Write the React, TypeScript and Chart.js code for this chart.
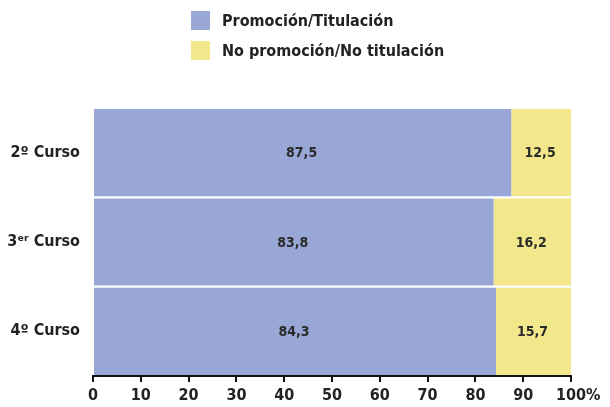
import React, { useEffect, useRef } from 'react';
import { Chart, registerables } from 'chart.js';

Chart.register(...registerables);

const categories = ['2º Curso', '3ᵉʳ Curso', '4º Curso'];
const promocion = [87.5, 83.8, 84.3];
const noPromocion = [12.5, 16.2, 15.7];
const seriesLabels = ['Promoción/Titulación', 'No promoción/No titulación'];
const seriesColors = ['#99A7D6', '#F2E78A'];

const FONT = '"DejaVu Sans Condensed", "Liberation Sans Narrow", "DejaVu Sans", sans-serif';
const TEXT = '#222222';

const fmt = (v: number) => v.toFixed(1).replace('.', ',');

const legendPlugin = {
  id: 'customLegend',
  afterDraw(chart: any) {
    const ctx = chart.ctx;
    ctx.save();
    chart.data.datasets.forEach((ds: any, i: number) => {
      const y = 11 + i * 30;
      ctx.fillStyle = ds.backgroundColor;
      ctx.fillRect(191, y, 19, 19);
      ctx.fillStyle = TEXT;
      ctx.font = `bold 16px ${FONT}`;
      ctx.textBaseline = 'middle';
      ctx.textAlign = 'left';
      ctx.fillText(ds.label, 222, y + 11);
    });
    ctx.restore();
  },
};

const valueLabels = {
  id: 'valueLabels',
  afterDatasetsDraw(chart: any) {
    const ctx = chart.ctx;
    ctx.save();
    ctx.font = `bold 14px ${FONT}`;
    ctx.fillStyle = '#2a2a2a';
    ctx.textAlign = 'center';
    ctx.textBaseline = 'middle';
    chart.data.datasets.forEach((ds: any, di: number) => {
      const meta = chart.getDatasetMeta(di);
      meta.data.forEach((el: any, i: number) => {
        const p = el.getProps(['x', 'y', 'base'], true);
        ctx.fillText(fmt(ds.data[i]), (p.x + p.base) / 2 - 1, p.y + 1);
      });
    });
    ctx.restore();
  },
};

const percentSign = {
  id: 'percentSign',
  afterDraw(chart: any) {
    const xs = chart.scales.x;
    const ctx = chart.ctx;
    ctx.save();
    ctx.font = `bold 16px ${FONT}`;
    const w = ctx.measureText('100').width;
    ctx.fillStyle = TEXT;
    ctx.textAlign = 'left';
    ctx.textBaseline = 'middle';
    const px = xs.getPixelForValue(100);
    const ys = xs.bottom;
    // align with the tick label row
    const labelY = xs.top + 2 + 6 + 4 + 8;
    ctx.fillText('%', px + w / 2, labelY);
    ctx.restore();
  },
};

export default function App() {
  const ref = useRef<HTMLCanvasElement | null>(null);
  useEffect(() => {
    if (!ref.current) return;
    const chart = new Chart(ref.current, {
      type: 'bar',
      data: {
        labels: categories,
        datasets: [
          { label: seriesLabels[0], data: promocion, backgroundColor: seriesColors[0] },
          { label: seriesLabels[1], data: noPromocion, backgroundColor: seriesColors[1] },
        ],
      },
      options: {
        indexAxis: 'y',
        animation: false,
        responsive: false,
        maintainAspectRatio: false,
        layout: { padding: { top: 108, right: 39, left: 0, bottom: 0 } },
        datasets: { bar: { categoryPercentage: 1, barPercentage: 0.975 } },
        plugins: { legend: { display: false }, tooltip: { enabled: false } },
        scales: {
          x: {
            stacked: true,
            min: 0,
            max: 100,
            ticks: {
              stepSize: 10,
              color: TEXT,
              font: { family: FONT, size: 16, weight: 'bold' },
              padding: 4,
              maxRotation: 0,
            },
            grid: { display: true, drawOnChartArea: false, drawTicks: true, tickLength: 6, color: '#111', lineWidth: 2 },
            border: { display: true, color: '#111', width: 2 },
            afterFit: (s: any) => { s.height = 31; },
          },
          y: {
            stacked: true,
            ticks: {
              color: TEXT,
              font: { family: FONT, size: 16, weight: 'bold' },
              padding: 5,
            },
            grid: { display: false },
            border: { display: false },
            afterFit: (s: any) => { s.width = 93; },
          },
        },
      },
      plugins: [legendPlugin, valueLabels, percentSign],
    } as any);
    return () => chart.destroy();
  }, []);
  return (
    <div style={{ position: 'fixed', left: 0, top: 0, width: 610, height: 407, background: '#fff' }}>
      <canvas ref={ref} width={610} height={407} style={{ display: 'block', width: 610, height: 407 }} />
    </div>
  );
}
